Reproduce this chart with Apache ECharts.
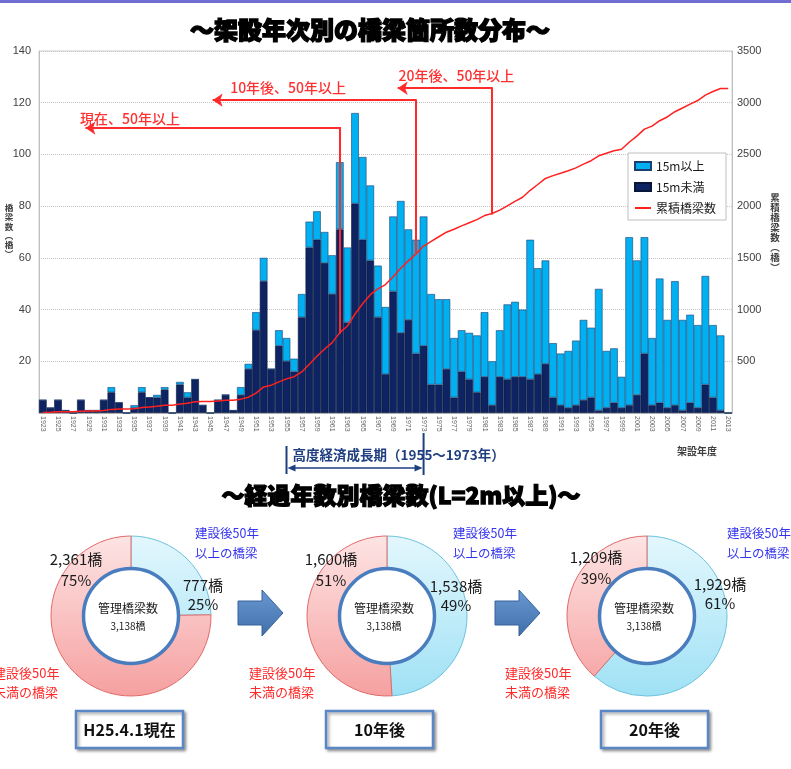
<!DOCTYPE html>
<html>
<head>
<meta charset="utf-8">
<script src="https://cdn.jsdelivr.net/npm/echarts@6/dist/echarts.min.js"></script>
<style>
  html, body { margin: 0; padding: 0; background: #ffffff; }
  #chart { width: 791px; height: 769px; }
</style>
</head>
<body>
<div id="chart"></div>
<script>
// ---- bridges built per year (架設年度) ----
const years = [
  '1923','1924','1925','1926','1927','1928','1929','1930','1931','1932',
  '1933','1934','1935','1936','1937','1938','1939','1940','1941','1942',
  '1943','1944','1945','1946','1947','1948','1949','1950','1951','1952',
  '1953','1954','1955','1956','1957','1958','1959','1960','1961','1962',
  '1963','1964','1965','1966','1967','1968','1969','1970','1971','1972',
  '1973','1974','1975','1976','1977','1978','1979','1980','1981','1982',
  '1983','1984','1985','1986','1987','1988','1989','1990','1991','1992',
  '1993','1994','1995','1996','1997','1998','1999','2000','2001','2002',
  '2003','2004','2005','2006','2007','2008','2009','2010','2011','2012',
  '2013'
];

// bridges shorter than 15 m
const under15m = [
  5, 2, 5, 1, 0, 5, 1, 1, 5, 8,
  4, 0, 2, 8, 6, 6, 9, 0, 11, 6,
  13, 3, 0, 5, 7, 1, 7, 17, 32, 51,
  17, 26, 20, 16, 37, 64, 67, 58, 46, 71,
  35, 81, 67, 59, 37, 15, 47, 31, 36, 23,
  26, 11, 11, 17, 6, 16, 13, 8, 14, 3,
  14, 13, 14, 14, 13, 15, 19, 6, 3, 2,
  3, 5, 6, 1, 2, 4, 2, 3, 7, 23,
  3, 4, 2, 3, 1, 4, 2, 11, 6, 1,
  0
];

// bridges 15 m and longer
const over15m = [
  0, 0, 0, 0, 0, 0, 0, 0, 0, 2,
  0, 0, 1, 2, 0, 1, 1, 0, 1, 2,
  0, 0, 0, 0, 0, 0, 3, 2, 7, 9,
  0, 6, 9, 5, 9, 10, 11, 12, 15, 26,
  29, 35, 32, 29, 20, 26, 29, 51, 35, 44,
  50, 35, 33, 27, 23, 16, 18, 22, 25, 17,
  18, 29, 29, 26, 54, 41, 40, 21, 20, 22,
  25, 31, 27, 47, 22, 21, 12, 65, 52, 45,
  26, 48, 34, 48, 35, 34, 32, 42, 28, 29,
  0
];

// running total of bridges (累積橋梁数)
const cumulative = [
  5, 7, 12, 13, 13, 18, 19, 20, 25, 35,
  39, 39, 42, 52, 58, 65, 75, 75, 87, 95,
  108, 111, 111, 116, 123, 124, 134, 153, 192, 252,
  269, 301, 330, 351, 397, 471, 549, 619, 680, 777,
  841, 957, 1056, 1144, 1201, 1242, 1318, 1400, 1471, 1538,
  1614, 1660, 1704, 1748, 1777, 1809, 1840, 1870, 1909, 1929,
  1961, 2003, 2046, 2086, 2153, 2209, 2268, 2295, 2318, 2342,
  2370, 2406, 2439, 2487, 2511, 2536, 2550, 2618, 2677, 2745,
  2774, 2826, 2862, 2913, 2949, 2987, 3021, 3074, 3108, 3138,
  3138
];

// ---- bridges by age (L=2m以上) ----
const donutTitles = ['H25.4.1現在', '10年後', '20年後'];
const over50Years = [777, 1538, 1929];
const under50Years = [2361, 1600, 1209];
const managedTotal = 3138;

// cut-off year for "50 years or older" and where its marker is drawn
const ageMarkers = [
  { text: '現在、50年以上',     year: 1962, level: 2755, arrowTo: 1928.6, textYear: 1927.9, textLevel: 2845 },
  { text: '10年後、50年以上',   year: 1972, level: 3025, arrowTo: 1945.3, textYear: 1947.6, textLevel: 3150 },
  { text: '20年後、50年以上',   year: 1982, level: 3140, arrowTo: 1969.6, textYear: 1969.7, textLevel: 3258 }
];
const growthPeriod = ['1955', '1973'];

const FONT = '"Noto Sans CJK JP", "Noto Sans", sans-serif';
const NUMFONT = '"Liberation Sans", Arial, sans-serif';

const chart = echarts.init(document.getElementById('chart'), null, { renderer: 'canvas' });

// donut layout
const donuts = [
  { cx: 131, cy: 616, boxX: 76,  over: [203, 585], under: [76, 559],  blue: [195, 533], red: [-7, 673] },
  { cx: 387, cy: 616, boxX: 326, over: [456, 586], under: [331, 559], blue: [453, 533], red: [249, 673] },
  { cx: 647, cy: 616, boxX: 601, over: [720, 584], under: [596, 557], blue: [727, 533], red: [505, 673] }
];
const R_IN = 47, R_OUT = 80;

function vGrad(cy, top, bottom) {
  return new echarts.graphic.LinearGradient(0, cy - R_OUT, 0, cy + R_OUT,
    [{ offset: 0, color: top }, { offset: 1, color: bottom }], true);
}

const pieSeries = donuts.map((d, i) => ({
  type: 'pie',
  center: [d.cx, d.cy],
  radius: [R_IN, R_OUT],
  startAngle: 90,
  clockwise: true,
  silent: true,
  label: { show: false },
  labelLine: { show: false },
  emphasis: { disabled: true },
  data: [
    { value: over50Years[i], name: '建設後50年以上の橋梁',
      itemStyle: { color: vGrad(d.cy, '#e3f7fd', '#9fe1f5'), borderColor: '#6cc2dc', borderWidth: 1 } },
    { value: under50Years[i], name: '建設後50年未満の橋梁',
      itemStyle: { color: vGrad(d.cy, '#fde4e4', '#f6a0a0'), borderColor: '#e06a6a', borderWidth: 1 } }
  ]
}));

const yearIdx = y => years.indexOf(String(y));
const plain = v => String(v);

const option = {
  animation: false,
  textStyle: { fontFamily: FONT },
  grid: { left: 39, right: 59, top: 51, bottom: 356, show: true, borderColor: '#d0d0d0', borderWidth: 1 },
  legend: {
    orient: 'vertical',
    left: 628, top: 153,
    itemWidth: 16, itemHeight: 8, itemGap: 9,
    padding: [7, 10, 6, 6],
    borderColor: '#bfbfbf', borderWidth: 1, backgroundColor: '#ffffff',
    textStyle: { fontSize: 12, color: '#1a1a1a', fontFamily: FONT },
    data: [
      { name: '15m以上', icon: 'rect' },
      { name: '15m未満', icon: 'rect' },
      { name: '累積橋梁数', itemStyle: { opacity: 0 } }
    ]
  },
  xAxis: [
    {
      type: 'category', data: years, boundaryGap: true,
      axisTick: { show: false },
      axisLine: { lineStyle: { color: '#bfbfbf' } },
      axisLabel: { interval: 1, rotate: -90, fontSize: 7, color: '#666666', margin: 3, fontFamily: NUMFONT },
      splitLine: { show: false }
    },
    { type: 'value', min: 1922.5, max: 2013.5, show: false, splitLine: { show: false } }
  ],
  yAxis: [
    {
      type: 'value', min: 0, max: 140, interval: 20,
      axisLine: { show: true, lineStyle: { color: '#bfbfbf' } },
      axisTick: { show: false },
      splitLine: { lineStyle: { color: '#c4c4c4', type: 'dotted' } },
      axisLabel: { showMinLabel: false, fontSize: 11, color: '#404040', margin: 8, fontFamily: NUMFONT, formatter: plain }
    },
    {
      type: 'value', min: 0, max: 3500, interval: 500, position: 'right',
      axisLine: { show: true, lineStyle: { color: '#bfbfbf' } },
      axisTick: { show: false },
      splitLine: { show: false },
      axisLabel: { showMinLabel: false, fontSize: 11, color: '#404040', margin: 5, fontFamily: NUMFONT, formatter: plain }
    }
  ],
  series: [
    {
      name: '15m未満', type: 'bar', stack: 'bridges', data: under15m,
      barCategoryGap: 0,
      itemStyle: { color: '#0e2462', borderColor: '#081638', borderWidth: 0.6 }
    },
    {
      name: '15m以上', type: 'bar', stack: 'bridges', data: over15m,
      barCategoryGap: 0,
      itemStyle: { color: '#00b0f0', borderColor: '#1b3f73', borderWidth: 0.6 }
    },
    {
      name: '累積橋梁数', type: 'line', yAxisIndex: 1, data: cumulative,
      symbol: 'none', showSymbol: false,
      lineStyle: { color: '#ff2020', width: 1.5 },
      itemStyle: { color: '#ff2020' },
      z: 5
    },
    {
      type: 'lines', coordinateSystem: 'cartesian2d', xAxisIndex: 1, yAxisIndex: 1,
      symbol: ['arrow', 'none'], symbolSize: 10, silent: true, z: 6,
      lineStyle: { color: '#ff2a2a', width: 2, opacity: 1, curveness: 0 },
      data: ageMarkers.map(a => ({ coords: [[a.arrowTo, a.level], [a.year, a.level]] }))
    },
    {
      type: 'lines', coordinateSystem: 'cartesian2d', xAxisIndex: 1, yAxisIndex: 1,
      symbol: 'none', silent: true, z: 6,
      lineStyle: { color: '#ff2a2a', width: 2, opacity: 1, curveness: 0, cap: 'square' },
      data: ageMarkers.map(a => ({ coords: [[a.year, a.level], [a.year, cumulative[yearIdx(a.year)]]] }))
    }
  ].concat(pieSeries)
};

chart.setOption(option);

// ---- decorations and texts ----
function txt(text, x, y, opts) {
  return {
    type: 'text', silent: true, z: 20,
    style: Object.assign({
      text: text, x: x, y: y,
      fill: '#1a1a1a',
      font: '12px ' + FONT,
      align: 'left', verticalAlign: 'middle',
      textAlign: 'left', textVerticalAlign: 'middle'
    }, opts || {})
  };
}
function centered(o) { return Object.assign({ align: 'center', textAlign: 'center' }, o); }

const g = [];

// top band
g.push({ type: 'rect', shape: { x: 0, y: 0, width: 791, height: 3 }, style: { fill: '#6f6fd3' }, silent: true });

// titles
g.push(txt('～架設年次別の橋梁箇所数分布～', 370, 30, centered({
  font: '900 24px ' + FONT, fill: '#000', stroke: '#000', lineWidth: 1.4
})));
g.push(txt('～経過年数別橋梁数(L=2m以上)～', 401, 495, centered({
  font: '900 23px ' + FONT, fill: '#000', stroke: '#000', lineWidth: 1.3
})));

// axis names
g.push(txt('橋\n梁\n数\n︵\n橋\n︶', 9, 231, centered({ font: 'bold 8.5px ' + FONT, fill: '#404040', lineHeight: 9.2 })));
g.push(txt('累\n積\n橋\n梁\n数\n︵\n橋\n︶', 775, 232, centered({ font: 'bold 9.5px ' + FONT, fill: '#404040', lineHeight: 10 })));
g.push(txt('架設年度', 697, 451, centered({ font: 'bold 10px ' + FONT, fill: '#404040' })));

// "50 years or older" marker labels
ageMarkers.forEach(a => {
  const p = chart.convertToPixel({ xAxisIndex: 1, yAxisIndex: 1 }, [a.textYear, a.textLevel]);
  g.push(txt(a.text, p[0], p[1], { font: '500 14px ' + FONT, fill: '#ff3030' }));
});

// high-growth period bracket
const gx1 = chart.convertToPixel({ xAxisIndex: 0 }, growthPeriod[0]);
const gx2 = chart.convertToPixel({ xAxisIndex: 0 }, growthPeriod[1]);
const navy = '#1f3f80';
g.push({ type: 'line', silent: true, shape: { x1: gx1, y1: 446, x2: gx1, y2: 474 }, style: { stroke: navy, lineWidth: 2 } });
g.push({ type: 'line', silent: true, shape: { x1: gx2, y1: 433, x2: gx2, y2: 475 }, style: { stroke: navy, lineWidth: 2 } });
g.push({ type: 'line', silent: true, shape: { x1: gx1 + 4, y1: 468, x2: gx2 - 4, y2: 468 }, style: { stroke: navy, lineWidth: 1.5 } });
g.push({ type: 'polygon', silent: true, shape: { points: [[gx1 + 1, 468], [gx1 + 9, 464.5], [gx1 + 9, 471.5]] }, style: { fill: navy } });
g.push({ type: 'polygon', silent: true, shape: { points: [[gx2 - 1, 468], [gx2 - 9, 464.5], [gx2 - 9, 471.5]] }, style: { fill: navy } });
g.push(txt('高度経済成長期（' + growthPeriod[0] + '～' + growthPeriod[1] + '年）', gx1 + 6, 455, {
  font: 'bold 13.5px ' + FONT, fill: navy
}));

// donut decorations
donuts.forEach((d, i) => {
  const fmt = v => v.toLocaleString('en-US');
  const pct = v => Math.round(v / managedTotal * 100) + '%';
  // inner ring
  g.push({ type: 'circle', silent: true, z: 15, shape: { cx: d.cx, cy: d.cy, r: R_IN + 0.5 },
    style: { fill: '#ffffff', stroke: '#4a7dbd', lineWidth: 3.5 } });
  g.push(txt('管理橋梁数', d.cx - 3, d.cy - 8, centered({ font: '12px ' + FONT })));
  g.push(txt(fmt(managedTotal) + '橋', d.cx - 3, d.cy + 10, centered({ font: '10px ' + FONT })));
  // value labels
  g.push(txt(fmt(under50Years[i]) + '橋', d.under[0], d.under[1], centered({ font: '15px ' + FONT })));
  g.push(txt(pct(under50Years[i]), d.under[0], d.under[1] + 21, centered({ font: '15px ' + FONT })));
  g.push(txt(fmt(over50Years[i]) + '橋', d.over[0], d.over[1], centered({ font: '15px ' + FONT })));
  g.push(txt(pct(over50Years[i]), d.over[0], d.over[1] + 19, centered({ font: '15px ' + FONT })));
  // category captions
  g.push(txt('建設後50年\n以上の橋梁', d.blue[0], d.blue[1] + 10, { font: '12.5px ' + FONT, fill: '#3434ee', lineHeight: 20 }));
  g.push(txt('建設後50年\n未満の橋梁', d.red[0], d.red[1] + 10, { font: '13px ' + FONT, fill: '#ff2a2a', lineHeight: 19 }));
  // period box
  g.push({ type: 'rect', silent: true, z: 14, shape: { x: d.boxX, y: 711, width: 107, height: 37 },
    style: { fill: '#ffffff', stroke: '#5a88c6', lineWidth: 2.5, shadowBlur: 3, shadowColor: 'rgba(0,0,0,0.35)', shadowOffsetX: 2, shadowOffsetY: 2 } });
  g.push(txt(donutTitles[i], d.boxX + 53.5, 730, centered({ font: 'bold 16px ' + FONT, fill: '#111' })));
});

// block arrows between donuts
[238, 495].forEach(x0 => {
  g.push({ type: 'polygon', silent: true, z: 12,
    shape: { points: [[x0, 601], [x0 + 24, 601], [x0 + 24, 590], [x0 + 45, 613], [x0 + 24, 636], [x0 + 24, 625], [x0, 625]] },
    style: {
      fill: new echarts.graphic.LinearGradient(0, 0, 0, 1, [{ offset: 0, color: '#6b98d2' }, { offset: 1, color: '#3f6faa' }]),
      stroke: '#36639a', lineWidth: 1
    } });
});

chart.setOption({ graphic: g });
</script>
</body>
</html>
